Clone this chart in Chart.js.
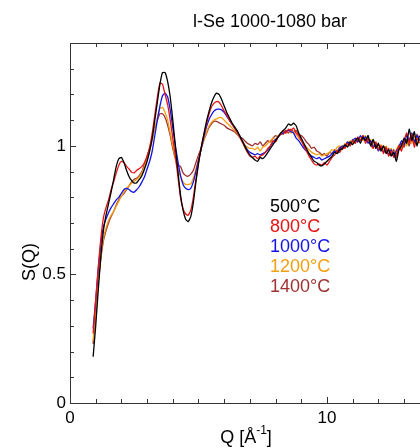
<!DOCTYPE html>
<html>
<head>
<meta charset="utf-8">
<script src="https://cdn.jsdelivr.net/npm/chart.js@4"></script>
<style>
  html, body { margin: 0; padding: 0; background: #fff; overflow: hidden; }
</style>
</head>
<body>
<canvas id="chart" width="420" height="448"></canvas>
<script>
// Q grid (1/Angstrom)
const qValues = [
  0.9, 1.0, 1.1, 1.2, 1.3, 1.4, 1.5, 1.6, 1.7, 1.8, 1.9, 2.0, 2.1, 2.2, 2.3, 2.4, 2.5, 2.6, 2.7, 2.8, 2.9, 3.0,
  3.1, 3.2, 3.3, 3.4, 3.5, 3.6, 3.7, 3.8, 3.9, 4.0, 4.1, 4.2, 4.3, 4.4, 4.5, 4.6, 4.7, 4.8, 4.9, 5.0, 5.1,
  5.2, 5.3, 5.4, 5.5, 5.6, 5.7, 5.8, 5.9, 6.0, 6.1, 6.2, 6.3, 6.4, 6.5, 6.6, 6.7, 6.8, 6.9, 7.0,
  7.1, 7.2, 7.3, 7.4, 7.5, 7.6, 7.7, 7.8, 7.9,
  8.0, 8.1, 8.2, 8.3, 8.4, 8.5, 8.6, 8.7, 8.8, 8.9,
  9.0, 9.1, 9.2, 9.3, 9.4, 9.5, 9.6, 9.7, 9.8, 9.9,
  10.0, 10.1, 10.2, 10.3, 10.4, 10.5, 10.6, 10.7, 10.8, 10.9,
  11.0, 11.1, 11.2, 11.3, 11.4, 11.5, 11.6, 11.7, 11.8, 11.9,
  12.0, 12.1, 12.2, 12.3, 12.4, 12.5, 12.6, 12.7, 12.8, 12.9,
  13.0, 13.1, 13.2, 13.3, 13.4, 13.5, 13.6
];

// S(Q) per temperature
const s500 = [
  0.18, 0.30, 0.44, 0.57, 0.67, 0.73, 0.775, 0.82, 0.87, 0.92, 0.95, 0.955, 0.935, 0.905, 0.88, 0.865, 0.855, 0.857, 0.87, 0.885, 0.91, 0.94,
  0.98, 1.03, 1.10, 1.17, 1.24, 1.285, 1.285, 1.25, 1.19, 1.10, 1.0, 0.90, 0.81, 0.75, 0.715, 0.705, 0.725, 0.78, 0.86, 0.93, 0.99,
  1.04, 1.09, 1.13, 1.165, 1.19, 1.205, 1.20, 1.18, 1.155, 1.13, 1.11, 1.09, 1.075, 1.06, 1.04, 1.02, 1.0, 0.98, 0.965,
  0.955, 0.945, 0.94, 0.955, 0.95, 0.96, 0.975, 0.99, 1.005,
  1.02, 1.035, 1.05, 1.06, 1.07, 1.085, 1.08, 1.088, 1.078, 1.05,
  1.03, 1.01, 0.99, 0.97, 0.955, 0.94, 0.935, 0.925, 0.922, 0.93,
  0.94, 0.95, 0.96, 0.975, 0.97, 0.985, 0.99, 1.005, 0.995, 1.015,
  1.005, 1.02, 1.03, 1.01, 1.035, 1.02, 1.04, 1.0, 1.025, 0.99,
  1.01, 0.98, 1.0, 0.97, 0.985, 0.96, 0.975, 0.94, 0.985, 1.0,
  1.03, 1.01, 1.065, 1.02, 1.055, 1.0, 1.04
];
const s800 = [
  0.27, 0.40, 0.53, 0.64, 0.72, 0.76, 0.79, 0.83, 0.86, 0.895, 0.925, 0.94, 0.935, 0.92, 0.91, 0.897, 0.895, 0.905, 0.912, 0.92, 0.935, 0.96,
  0.995, 1.05, 1.12, 1.19, 1.245, 1.24, 1.20, 1.16, 1.10, 1.03, 0.96, 0.88, 0.80, 0.755, 0.735, 0.73, 0.75, 0.80, 0.87, 0.935, 0.99,
  1.04, 1.08, 1.12, 1.15, 1.165, 1.172, 1.17, 1.155, 1.135, 1.12, 1.10, 1.085, 1.07, 1.055, 1.035, 1.015, 0.995, 0.975, 0.96,
  0.955, 0.96, 0.95, 0.96, 0.965, 0.975, 0.99, 1.0, 1.02,
  1.015, 1.035, 1.045, 1.06, 1.05, 1.065, 1.06, 1.07, 1.05, 1.04,
  1.02, 1.0, 0.98, 0.96, 0.945, 0.93, 0.925, 0.93, 0.925, 0.935,
  0.925, 0.94, 0.955, 0.965, 0.98, 0.975, 0.995, 0.99, 1.01, 1.0,
  1.02, 1.01, 1.035, 1.02, 1.04, 1.01, 1.03, 1.005, 0.99, 1.015,
  0.985, 1.0, 0.97, 0.995, 0.96, 0.98, 0.955, 0.965, 1.0, 0.98,
  1.02, 1.05, 1.01, 1.045, 0.995, 1.03, 1.01
];
const s1000 = [
  0.29, 0.40, 0.52, 0.62, 0.685, 0.715, 0.74, 0.76, 0.775, 0.79, 0.80, 0.815, 0.83, 0.835, 0.83, 0.822, 0.82, 0.83, 0.842, 0.86, 0.88, 0.91,
  0.94, 0.98, 1.04, 1.10, 1.155, 1.195, 1.205, 1.19, 1.14, 1.07, 1.0, 0.94, 0.885, 0.85, 0.835, 0.83, 0.835, 0.86, 0.90, 0.945, 0.985,
  1.03, 1.07, 1.10, 1.12, 1.135, 1.142, 1.143, 1.14, 1.13, 1.115, 1.10, 1.085, 1.07, 1.055, 1.04, 1.02, 1.0, 0.985, 0.975,
  0.97, 0.965, 0.97, 0.965, 0.97, 0.975, 0.985, 1.0, 1.015,
  1.025, 1.035, 1.045, 1.05, 1.055, 1.06, 1.055, 1.05, 1.03, 1.02,
  1.005, 0.99, 0.98, 0.97, 0.96, 0.955, 0.95, 0.955, 0.945, 0.95,
  0.955, 0.96, 0.97, 0.98, 0.975, 0.99, 1.0, 0.995, 1.015, 1.005,
  1.02, 1.03, 1.015, 1.04, 1.025, 1.035, 1.01, 1.02, 0.995, 1.005,
  0.98, 0.995, 0.975, 0.99, 0.965, 0.985, 0.96, 0.98, 0.995, 1.02,
  1.005, 1.04, 1.02, 1.05, 1.015, 1.04, 1.02
];
const s1200 = [
  0.24, 0.36, 0.48, 0.57, 0.64, 0.68, 0.71, 0.73, 0.745, 0.765, 0.785, 0.805, 0.82, 0.835, 0.845, 0.855, 0.862, 0.87, 0.88, 0.895, 0.92, 0.95,
  0.98, 1.02, 1.07, 1.11, 1.145, 1.15, 1.13, 1.10, 1.05, 1.00, 0.95, 0.91, 0.88, 0.86, 0.85, 0.85, 0.852, 0.875, 0.91, 0.95, 0.985,
  1.02, 1.05, 1.075, 1.09, 1.10, 1.105, 1.11, 1.11, 1.10, 1.09, 1.08, 1.07, 1.06, 1.05, 1.035, 1.02, 1.005, 0.995, 0.99,
  0.99, 0.985, 0.995, 0.98, 0.995, 1.0, 1.01, 1.02, 1.03,
  1.025, 1.04, 1.045, 1.055, 1.05, 1.06, 1.05, 1.055, 1.045, 1.03,
  1.02, 1.005, 0.995, 0.985, 0.975, 0.97, 0.965, 0.97, 0.96, 0.965,
  0.97, 0.975, 0.985, 0.98, 0.995, 1.0, 0.99, 1.01, 1.0, 1.02,
  1.01, 1.03, 1.015, 1.035, 1.02, 1.04, 1.015, 1.025, 1.0, 1.015,
  0.99, 1.005, 0.98, 1.0, 0.975, 0.99, 0.97, 0.985, 1.005, 0.99,
  1.02, 1.0, 1.03, 1.01, 1.04, 1.005, 1.025
];
const s1400 = [
  0.23, 0.35, 0.47, 0.56, 0.63, 0.67, 0.70, 0.725, 0.745, 0.77, 0.79, 0.805, 0.815, 0.83, 0.845, 0.86, 0.87, 0.875, 0.885, 0.90, 0.93, 0.96,
  0.99, 1.03, 1.07, 1.10, 1.125, 1.125, 1.11, 1.08, 1.04, 0.99, 0.95, 0.925, 0.92, 0.895, 0.885, 0.882, 0.89, 0.905, 0.935, 0.965, 0.99,
  1.02, 1.045, 1.07, 1.085, 1.095, 1.095, 1.09, 1.085, 1.08, 1.07, 1.065, 1.06, 1.055, 1.045, 1.035, 1.03, 1.02, 1.01, 1.005,
  1.0, 1.01, 1.005, 1.015, 1.0, 1.01, 1.02, 1.015, 1.03,
  1.04, 1.035, 1.05, 1.045, 1.06, 1.05, 1.065, 1.055, 1.06, 1.045,
  1.04, 1.03, 1.015, 1.005, 0.99, 0.995, 0.98, 0.975, 0.965, 0.97,
  0.96, 0.975, 0.97, 0.985, 0.98, 0.995, 0.985, 1.0, 1.015, 1.0,
  1.025, 1.01, 1.03, 1.02, 1.04, 1.025, 1.03, 1.005, 1.02, 0.995,
  1.005, 0.985, 1.0, 0.975, 0.99, 0.965, 0.985, 0.955, 0.99, 1.01,
  0.995, 1.025, 1.0, 1.035, 1.01, 1.045, 1.02
];

const seriesLabels = ['500°C', '800°C', '1000°C', '1200°C', '1400°C'];
const seriesColors = ['#000000', '#e61414', '#1414e6', '#f2a012', '#9e3232'];
const seriesData = [s500, s800, s1000, s1200, s1400];

// axis ticks
const xTicks = [0, 1, 2, 3, 4, 5, 6, 7, 8, 9, 10, 11, 12, 13];
const xTickLabels = { 0: '0', 10: '10' };
const yTicks = [0, 0.1, 0.2, 0.3, 0.4, 0.5, 0.6, 0.7, 0.8, 0.9, 1, 1.1, 1.2, 1.3, 1.4];
const yTickLabels = { 0: '0', 0.5: '0.5', 1: '1' };

const FONT = '"Liberation Sans", Arial, sans-serif';

// inward tick marks, top frame, titles and the coloured text legend
const decor = {
  id: 'decor',
  afterDraw(chart) {
    const { ctx, chartArea: a, scales: { x, y } } = chart;
    ctx.save();
    ctx.strokeStyle = '#333';
    ctx.lineWidth = 1;
    ctx.beginPath();
    ctx.moveTo(a.left, a.top + 0.5);
    ctx.lineTo(a.right, a.top + 0.5);
    x.ticks.forEach(t => {
      const px = Math.round(x.getPixelForValue(t.value)) + 0.5;
      const len = t.value % 10 === 0 ? 6 : 4;
      ctx.moveTo(px, a.bottom); ctx.lineTo(px, a.bottom - len);
      ctx.moveTo(px, a.top); ctx.lineTo(px, a.top + len);
    });
    y.ticks.forEach(t => {
      const py = Math.round(y.getPixelForValue(t.value)) + 0.5;
      const len = yTickLabels[t.value] ? 6 : 4;
      ctx.moveTo(a.left, py); ctx.lineTo(a.left + len, py);
    });
    ctx.stroke();

    ctx.fillStyle = '#000';
    ctx.font = '18px ' + FONT;
    ctx.textAlign = 'center';
    ctx.textBaseline = 'alphabetic';
    ctx.fillText('l-Se 1000-1080 bar', 270, 27);

    // y title
    ctx.save();
    ctx.translate(35, 262);
    ctx.rotate(-Math.PI / 2);
    ctx.fillText('S(Q)', 0, 0);
    ctx.restore();

    // x title with superscript
    ctx.textAlign = 'left';
    const main = 'Q [Å';
    const w1 = ctx.measureText(main).width;
    ctx.font = '12px ' + FONT;
    const w2 = ctx.measureText('-1').width;
    ctx.font = '18px ' + FONT;
    const w3 = ctx.measureText(']').width;
    const sx = 246 - (w1 + w2 + w3) / 2;
    ctx.fillText(main, sx, 443);
    ctx.font = '12px ' + FONT;
    ctx.fillText('-1', sx + w1, 434);
    ctx.font = '18px ' + FONT;
    ctx.fillText(']', sx + w1 + w2, 443);

    // legend as coloured text
    seriesLabels.forEach((lab, i) => {
      ctx.fillStyle = seriesColors[i];
      ctx.fillText(lab, 270, 212 + i * 19.9);
    });
    ctx.restore();
  }
};

new Chart(document.getElementById('chart').getContext('2d'), {
  type: 'line',
  data: {
    datasets: seriesData.map((s, i) => ({
      label: seriesLabels[i],
      data: qValues.map((q, j) => ({ x: q, y: s[j] })),
      borderColor: seriesColors[i],
      borderWidth: 1.3,
      pointRadius: 0,
      fill: false,
      tension: 0.15
    }))
  },
  options: {
    responsive: false,
    animation: false,
    devicePixelRatio: 1,
    layout: { padding: { top: 43, right: 0, left: 0, bottom: 0 } },
    plugins: { legend: { display: false }, title: { display: false }, tooltip: { enabled: false } },
    scales: {
      x: {
        type: 'linear',
        min: 0,
        max: 13.62,
        afterBuildTicks: s => { s.ticks = xTicks.map(v => ({ value: v })); },
        afterFit: s => { s.height = 45; },
        grid: { display: false, drawTicks: false },
        border: { display: true, color: '#333', width: 1 },
        ticks: {
          autoSkip: false,
          maxRotation: 0,
          padding: 5,
          color: '#000',
          font: { family: FONT, size: 17 },
          callback: v => xTickLabels[v] || ''
        }
      },
      y: {
        min: 0,
        max: 1.4,
        afterBuildTicks: s => { s.ticks = yTicks.map(v => ({ value: v })); },
        afterFit: s => { s.width = 70; },
        grid: { display: false, drawTicks: false },
        border: { display: true, color: '#333', width: 1 },
        ticks: {
          autoSkip: false,
          padding: 4,
          color: '#000',
          font: { family: FONT, size: 17 },
          callback: v => yTickLabels[v] || ''
        }
      }
    }
  },
  plugins: [decor]
});
</script>
</body>
</html>
